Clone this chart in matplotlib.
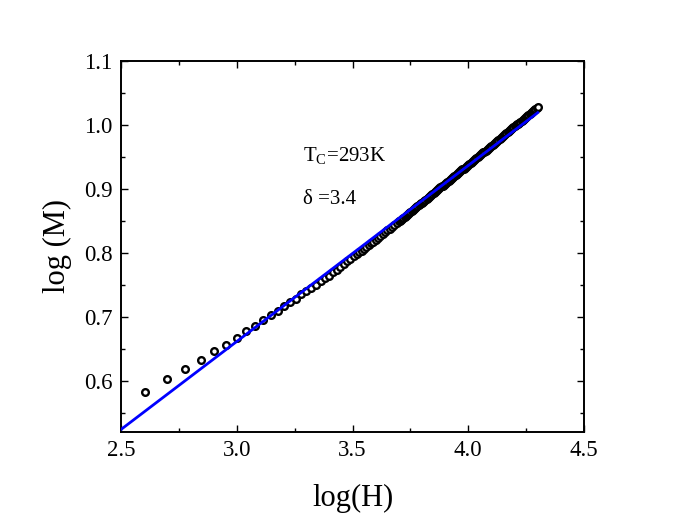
import matplotlib
matplotlib.use('Agg')
import matplotlib.pyplot as plt
from matplotlib.ticker import MultipleLocator

plt.rcParams['font.family'] = ['Liberation Serif', 'DejaVu Serif']
plt.rcParams['mathtext.fontset'] = 'custom'
plt.rcParams['mathtext.rm'] = 'Liberation Serif'

# log(H) and log(M) - low field part (separate points)
log_h_low = [2.602, 2.699, 2.778, 2.845, 2.903, 2.954, 3.000, 3.041, 3.079, 3.114,
             3.146, 3.176, 3.204, 3.230, 3.255, 3.279, 3.301, 3.322, 3.342, 3.362,
             3.380, 3.398, 3.415, 3.431, 3.447, 3.462, 3.477, 3.491, 3.505,
             3.52, 3.53, 3.54, 3.55, 3.56, 3.57, 3.58, 3.59, 3.60, 3.61,
             3.62, 3.63, 3.64, 3.65, 3.66, 3.67, 3.68, 3.69]
log_m_low = [0.583, 0.604, 0.620, 0.634, 0.647, 0.657, 0.668, 0.678, 0.687, 0.696,
             0.703, 0.710, 0.717, 0.723, 0.729, 0.736, 0.741, 0.746, 0.751, 0.756,
             0.761, 0.765, 0.770, 0.774, 0.779, 0.783, 0.787, 0.791, 0.795,
             0.798, 0.801, 0.804, 0.807, 0.810, 0.813, 0.815, 0.818, 0.821, 0.824,
             0.827, 0.830, 0.833, 0.836, 0.838, 0.841, 0.844, 0.847]

# high field part (points packed into a solid band)
log_h_high = [3.700, 3.705, 3.710, 3.715, 3.720, 3.725, 3.730, 3.735, 3.740, 3.745,
              3.750, 3.755, 3.760, 3.765, 3.770, 3.775, 3.780, 3.785, 3.790, 3.795,
              3.800, 3.805, 3.810, 3.815, 3.820, 3.825, 3.830, 3.835, 3.840, 3.845,
              3.850, 3.855, 3.860, 3.865, 3.870, 3.875, 3.880, 3.885, 3.890, 3.895,
              3.900, 3.905, 3.910, 3.915, 3.920, 3.925, 3.930, 3.935, 3.940, 3.945,
              3.950, 3.955, 3.960, 3.965, 3.970, 3.975, 3.980, 3.985, 3.990, 3.995,
              4.000, 4.005, 4.010, 4.015, 4.020, 4.025, 4.030, 4.035, 4.040, 4.045,
              4.050, 4.055, 4.060, 4.065, 4.070, 4.075, 4.080, 4.085, 4.090, 4.095,
              4.100, 4.105, 4.110, 4.115, 4.120, 4.125, 4.130, 4.135, 4.140, 4.145,
              4.150, 4.155, 4.160, 4.165, 4.170, 4.175, 4.180, 4.185, 4.190, 4.195,
              4.200, 4.205, 4.210, 4.215, 4.220, 4.225, 4.230, 4.235, 4.240, 4.245,
              4.250, 4.255, 4.260, 4.265, 4.270, 4.275, 4.280, 4.285, 4.290, 4.295,
              4.301]
log_m_high = [0.8494, 0.8508, 0.8523, 0.8538, 0.8553, 0.8567, 0.8582, 0.8597, 0.8612, 0.8626,
              0.8641, 0.8656, 0.8671, 0.8685, 0.8700, 0.8715, 0.8730, 0.8744, 0.8759, 0.8774,
              0.8789, 0.8803, 0.8818, 0.8833, 0.8847, 0.8862, 0.8877, 0.8891, 0.8906, 0.8921,
              0.8936, 0.8950, 0.8965, 0.8980, 0.8995, 0.9009, 0.9024, 0.9039, 0.9054, 0.9068,
              0.9083, 0.9098, 0.9112, 0.9127, 0.9142, 0.9156, 0.9171, 0.9186, 0.9201, 0.9215,
              0.9230, 0.9245, 0.9260, 0.9274, 0.9289, 0.9304, 0.9319, 0.9333, 0.9348, 0.9363,
              0.9378, 0.9392, 0.9407, 0.9422, 0.9436, 0.9451, 0.9466, 0.9480, 0.9495, 0.9510,
              0.9525, 0.9539, 0.9554, 0.9569, 0.9584, 0.9598, 0.9613, 0.9628, 0.9643, 0.9657,
              0.9672, 0.9687, 0.9702, 0.9717, 0.9733, 0.9748, 0.9763, 0.9778, 0.9794, 0.9809,
              0.9824, 0.9839, 0.9855, 0.9870, 0.9885, 0.9900, 0.9916, 0.9931, 0.9946, 0.9961,
              0.9977, 0.9991, 1.0006, 1.0020, 1.0035, 1.0050, 1.0065, 1.0079, 1.0094, 1.0109,
              1.0124, 1.0138, 1.0153, 1.0168, 1.0183, 1.0197, 1.0212, 1.0227, 1.0242, 1.0256,
              1.0271]

# linear fit line (end points)
fit_x = [2.5, 4.30]
fit_y = [0.525, 1.019]

fig = plt.figure(figsize=(6.78, 5.19), dpi=100)
ax = fig.add_axes([0.1785, 0.1676, 0.6829, 0.7154])

ax.plot(log_h_low + log_h_high, log_m_low + log_m_high, 'o', ms=4.8, mfc='white',
        mec='black', mew=1.7, zorder=2)
ax.plot(fit_x, fit_y, color='#0000ff', lw=2.0, zorder=3)

ax.set_xlim(2.5, 4.5)
ax.set_ylim(0.521, 1.1)
ax.xaxis.set_major_locator(MultipleLocator(0.5))
ax.xaxis.set_minor_locator(MultipleLocator(0.25))
ax.yaxis.set_major_locator(MultipleLocator(0.1))
ax.yaxis.set_minor_locator(MultipleLocator(0.05))
ax.tick_params(which='both', direction='in', top=True, right=True, width=1.0, labelsize=16.5, pad=6)
ax.tick_params(which='major', length=5)
ax.tick_params(which='minor', length=3)
for s in ax.spines.values():
    s.set_linewidth(1.4)

ax.set_xlabel('log(H)', fontsize=22, labelpad=16)
ax.set_ylabel('log (M)', fontsize=22, labelpad=9)

ax.text(3.286, 0.943, r'T$_{\mathrm{C}}$=293K', fontsize=15)
ax.text(3.286, 0.877, 'δ =3.4', fontsize=15)

fig.savefig('out.png', dpi=100)
